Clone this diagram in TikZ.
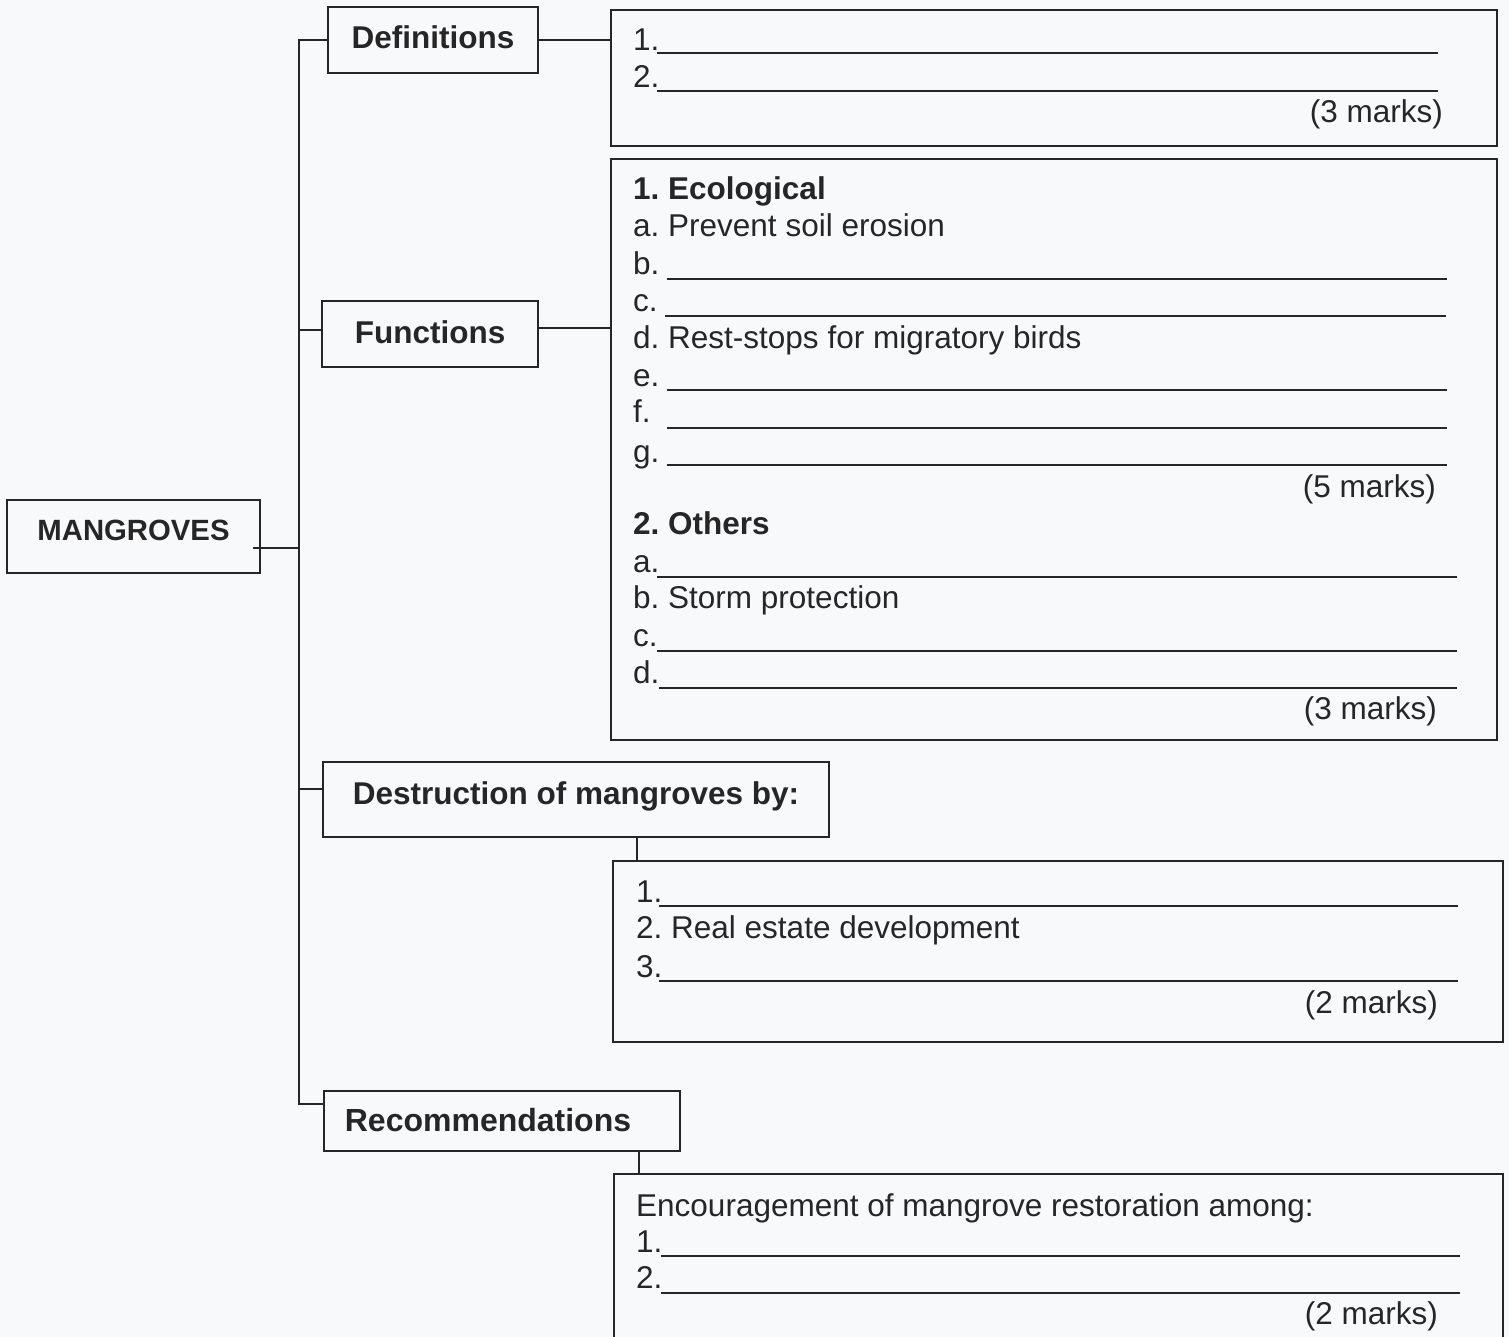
\documentclass[tikz,border=0pt]{standalone}
\usepackage{fontspec}
\setmainfont{Liberation Sans}
\newfontfamily\bodyf{Liberation Sans}
\newfontfamily\labf{Liberation Sans}
\definecolor{ink}{HTML}{262626}
\definecolor{paper}{HTML}{F8F9FB}
\frenchspacing
\begin{document}
\begin{tikzpicture}[x=1bp,y=-1bp,color=ink,
  labbox/.style={draw, rectangle, inner sep=0pt, line width=1.6bp,
    font=\labf\bfseries\fontsize{31.5bp}{38bp}\selectfont, text height=22.6bp},
  ansbox/.style={draw, rectangle, inner sep=0pt, line width=1.6bp},
  txt/.style={inner sep=0pt, anchor=base west, font=\bodyf\fontsize{31.5bp}{38bp}\selectfont\frenchspacing},
  hd/.style={txt, font=\bodyf\bfseries\fontsize{31.5bp}{38bp}\selectfont\frenchspacing},
  mk/.style={txt, anchor=base east},
  uline/.style={line width=1.3bp},
  link/.style={line width=1.6bp}]
\clip (0,0) rectangle (1509,1337);
\fill[paper] (0,0) rectangle (1509,1337);
\useasboundingbox (0,0) rectangle (1509,1337);

% label boxes
\node[labbox, minimum width=253bp, minimum height=73bp,
  font=\labf\bfseries\fontsize{29.3bp}{35bp}\selectfont, text height=21bp, text depth=13bp]
  (mang) at (133.5,536.5) {MANGROVES};
\node[labbox, minimum width=210bp, minimum height=66bp, text depth=5bp] (def) at (433,40) {Definitions};
\node[labbox, minimum width=216bp, minimum height=66bp, text depth=4bp] (fun) at (430,334) {Functions};
\node[labbox, minimum width=506bp, minimum height=75bp, text depth=13bp]
  (des) at (576,799.5) {Destruction of mangroves by:};
\node[labbox, minimum width=356bp, minimum height=60bp,
  font=\labf\bfseries\fontsize{32bp}{38bp}\selectfont, text height=22.9bp, text depth=1bp]
  (rec) at (502,1121) {Recommendations\hspace*{28bp}};

% answer boxes
\node[ansbox, minimum width=886bp, minimum height=136bp] (defans) at (1054,78) {};
\node[ansbox, minimum width=886bp, minimum height=581bp] (funans) at (1054,449.5) {};
\node[ansbox, minimum width=890bp, minimum height=181bp] (desans) at (1058,951.5) {};
\node[ansbox, minimum width=889bp, minimum height=186bp] (recans) at (1058.5,1267) {};

% connectors
\coordinate (ttop) at (299,40);
\coordinate (tbot) at (299,1104);
\coordinate (tfun) at (299,330);
\coordinate (tdes) at (299,789);
\coordinate (tman) at (299,548);
\coordinate (cdx) at (637,0);
\coordinate (crx) at (639,0);
\draw[link] (def.west) -- (ttop) -- (tbot) -- (tbot -| rec.west);
\draw[link] (tfun) -- (tfun -| fun.west);
\draw[link] (tdes) -- (tdes -| des.west);
\draw[link] ([xshift=-8bp]mang.east |- tman) -- (tman);
\draw[link] (def.east) -- (def.east -| defans.west);
\draw[link] ([yshift=6bp]fun.east) -- ([yshift=6bp]fun.east -| funans.west);
\draw[link] (des.south -| cdx) -- (desans.north -| cdx);
\draw[link] (rec.south -| crx) -- (recans.north -| crx);

% definitions answers
\node[txt] (d1) at (633,51) {1.};
\draw[uline] (657,53) -- (1438,53);
\node[txt] (d2) at (633,88) {2.};
\draw[uline] (657,91) -- (1438,91);
\node[mk] (dm) at (1443,123) {(3 marks)};

% functions answers
\node[hd] (f0) at (633,200) {1. Ecological};
\node[txt] (fa) at (633,237) {a. Prevent soil erosion};
\node[txt] (fb) at (633,275) {b.};
\draw[uline] (667,279) -- (1447,279);
\node[txt] (fc) at (633,312) {c.};
\draw[uline] (665,316) -- (1446,316);
\node[txt] (fd) at (633,349) {d. Rest-stops for migratory birds};
\node[txt] (fe) at (633,386) {e.};
\draw[uline] (667,390) -- (1447,390);
\node[txt] (ff) at (633,422) {f.};
\draw[uline] (667,428) -- (1447,428);
\node[txt] (fg) at (633,462) {g.};
\draw[uline] (667,465) -- (1447,465);
\node[mk] (fm1) at (1436,497) {(5 marks)};
\node[hd] (o0) at (633,534) {2. Others};
\node[txt] (oa) at (633,572) {a.};
\draw[uline] (657,577) -- (1457,577);
\node[txt] (ob) at (633,608) {b. Storm protection};
\node[txt] (oc) at (633,646) {c.};
\draw[uline] (657,651) -- (1457,651);
\node[txt] (od) at (633,683) {d.};
\draw[uline] (659,688) -- (1457,688);
\node[mk] (fm2) at (1437,719) {(3 marks)};

% destruction answers
\node[txt] (x1) at (636,902) {1.};
\draw[uline] (659,906) -- (1458,906);
\node[txt] (x2) at (636,938) {2. Real estate development};
\node[txt] (x3) at (636,977) {3.};
\draw[uline] (659,981) -- (1458,981);
\node[mk] (xm) at (1438,1013) {(2 marks)};

% recommendations answers
\node[txt] (r0) at (636,1216) {Encouragement of mangrove restoration among:};
\node[txt] (r1) at (636,1252) {1.};
\draw[uline] (661,1256) -- (1460,1256);
\node[txt] (r2) at (636,1288) {2.};
\draw[uline] (661,1293) -- (1460,1293);
\node[mk] (rm) at (1438,1324) {(2 marks)};
\end{tikzpicture}
\end{document}
